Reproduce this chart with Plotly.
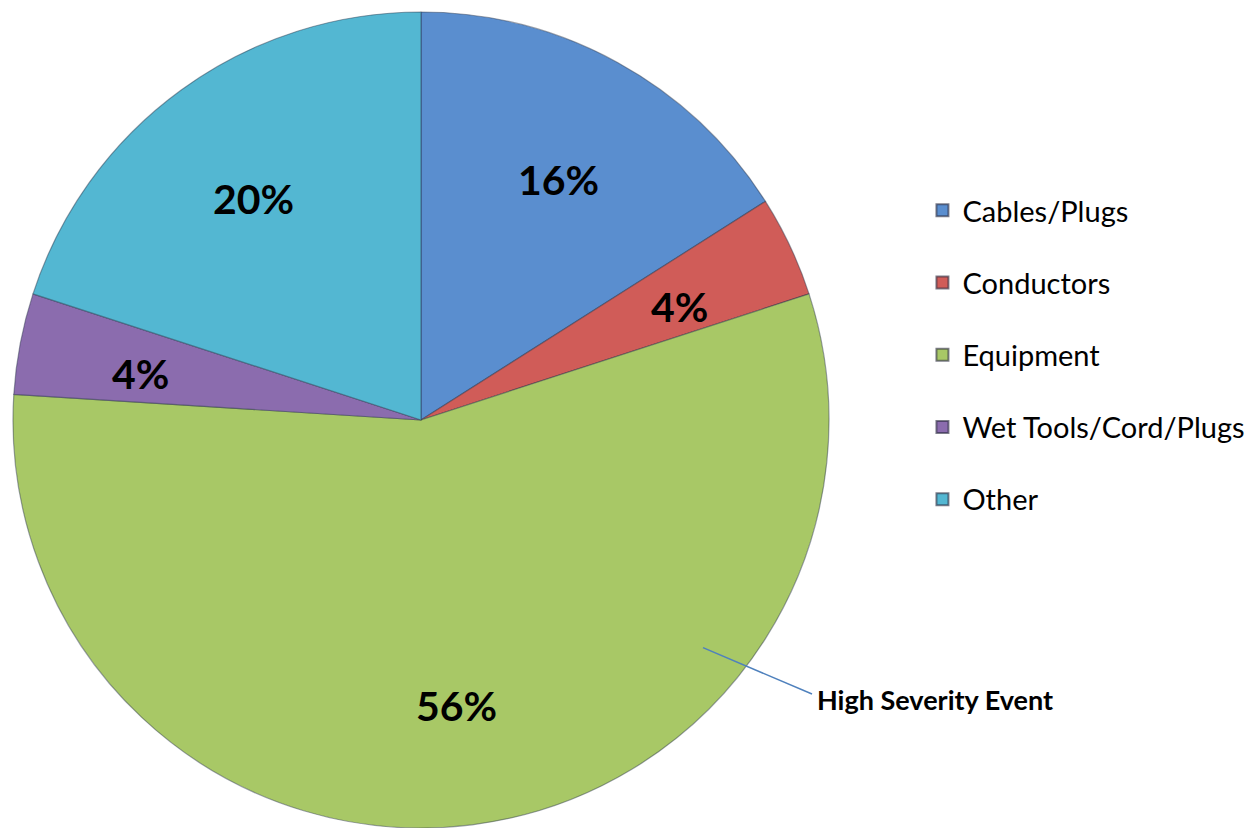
import math
import plotly.graph_objects as go

categories = ["Cables/Plugs", "Conductors", "Equipment", "Wet Tools/Cord/Plugs", "Other"]
values = [16, 4, 56, 4, 20]
colors = ["#5A8ECF", "#D05C58", "#A8C866", "#8B6CAE", "#53B7D2"]
annotation_text = "High Severity Event"

W, H = 1254, 828
FONT = "Lato"

# pie geometry (paper domain)
dom_x = [0, 842 / W]
dom_y = [0, 1]
M_TOP = 12
LABEL_R = 0.70  # fraction of radius where data labels sit

fig = go.Figure()
fig.add_trace(go.Pie(
    labels=categories,
    values=values,
    sort=False,
    direction="clockwise",
    rotation=0,
    marker=dict(colors=colors, line=dict(color="rgba(40,50,70,0.45)", width=1.2)),
    textinfo="none",
    domain=dict(x=dom_x, y=dom_y),
    showlegend=False,
    hoverinfo="label+percent",
))

# legend proxies (one per category, spaced as in the reference)
for name, col in zip(categories, colors):
    fig.add_trace(go.Scatter(
        x=[None], y=[None], mode="markers", name=name, legendgroup=name,
        marker=dict(symbol="square", size=16, color=col,
                    line=dict(color="rgba(40,40,60,0.6)", width=1)),
    ))

# data labels placed at the middle angle of each slice
plot_h = H - M_TOP
cx = (dom_x[0] + dom_x[1]) / 2 * W
cy = M_TOP + plot_h / 2
R = min((dom_x[1] - dom_x[0]) * W, plot_h) / 2
total = sum(values)
annotations = []
cum = 0
for v in values:
    mid = (cum + v / 2) / total * 2 * math.pi
    cum += v
    px = cx + LABEL_R * R * math.sin(mid)
    py = cy - LABEL_R * R * math.cos(mid)
    annotations.append(dict(
        x=px / W, y=1 - py / H, xref="paper", yref="paper",
        text="<b>%d%%</b>" % round(v / total * 100), showarrow=False,
        xanchor="center", yanchor="middle",
        font=dict(family=FONT, size=41, color="black"),
    ))

annotations.append(dict(
    x=815 / W, y=1 - 698 / H, xref="paper", yref="paper",
    text="<b>" + annotation_text + "</b>", showarrow=False,
    xanchor="left", yanchor="middle",
    font=dict(family=FONT, size=27, color="black"),
))

fig.update_layout(
    width=W, height=H,
    margin=dict(l=0, r=0, t=M_TOP, b=0),
    paper_bgcolor="white", plot_bgcolor="white",
    xaxis=dict(visible=False), yaxis=dict(visible=False),
    legend=dict(
        x=0.7356, y=0.788, xanchor="left", yanchor="top",
        font=dict(family=FONT, size=29, color="black"),
        tracegroupgap=31.5, itemsizing="constant",
        bgcolor="rgba(0,0,0,0)",
    ),
    annotations=annotations,
    shapes=[dict(
        type="line", xref="paper", yref="paper",
        x0=703 / W, y0=1 - 645 / H, x1=812 / W, y1=1 - 692 / H,
        line=dict(color="#4F81BD", width=1.5),
    )],
)

fig.write_html("out.html")
